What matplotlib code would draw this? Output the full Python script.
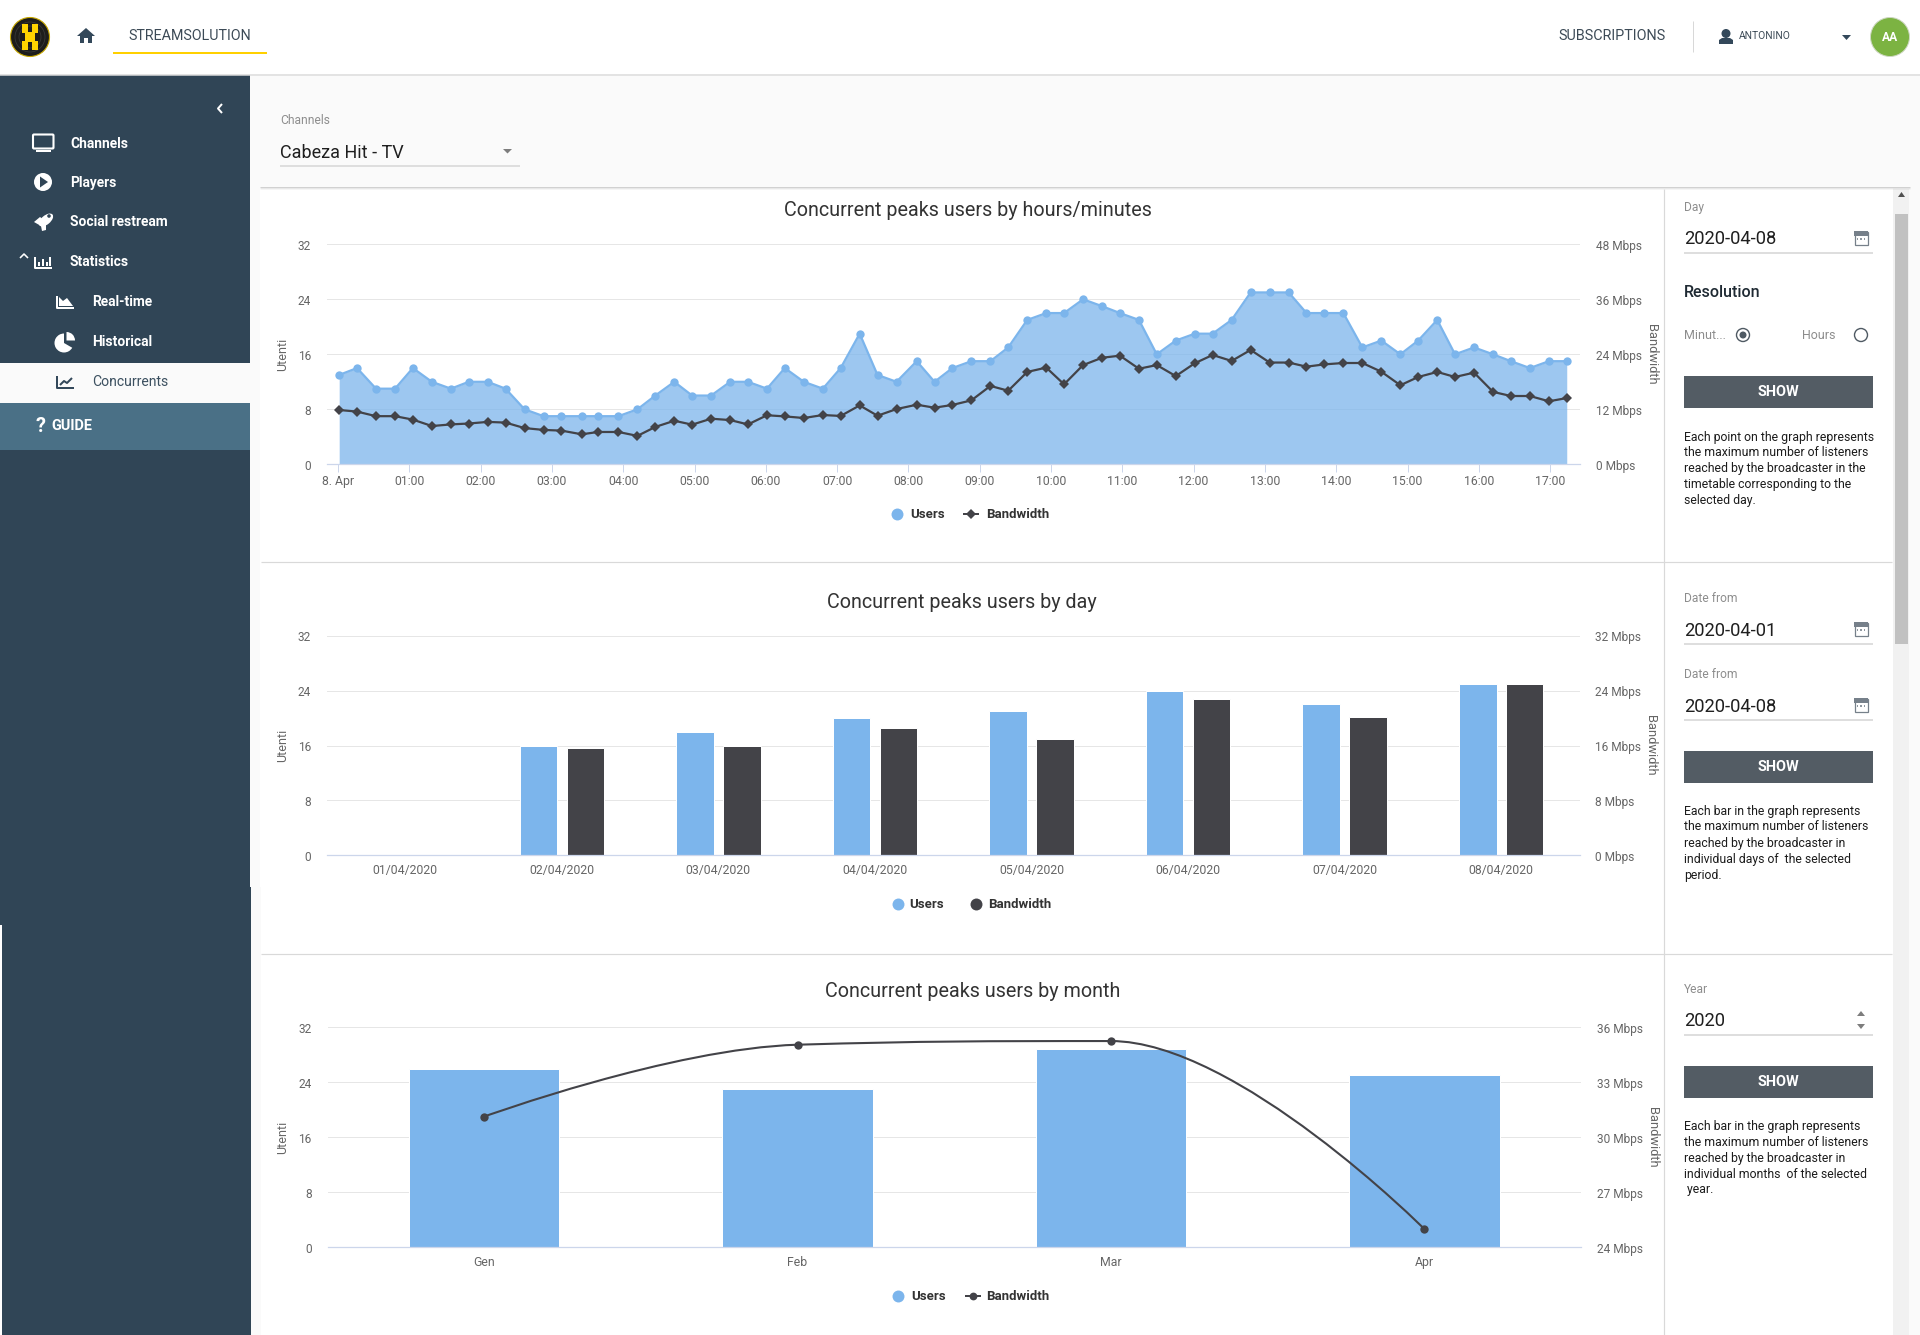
# Concurrent peaks dashboard

import matplotlib
matplotlib.use("Agg")
import matplotlib.pyplot as plt
from matplotlib.patches import Circle, Polygon, Rectangle, Wedge, PathPatch, FancyBboxPatch, Ellipse
from matplotlib.path import Path
from matplotlib.transforms import ScaledTranslation

W, H = 1920, 1335

# minutes after midnight of each point in the first chart
MINUTI = [1, 16, 32, 48, 63, 79, 95, 110, 126, 141, 157, 173, 188, 205, 219, 236, 252,
          267, 283, 298, 314, 330, 345, 361, 376, 392, 408, 423, 439, 454, 470, 487,
          502, 517, 533, 549, 564, 580, 596, 611, 627, 643, 658, 674, 689, 705, 721,
          736, 752, 768, 784, 800, 815, 830, 846, 862, 878, 894, 909, 925, 940, 956,
          972, 987, 1003, 1019, 1034]
USERS_ORE = [13, 14, 11, 11, 14, 12, 11, 12, 12, 11, 8, 7, 7, 7, 7, 7, 8, 10, 12, 10, 10,
             12, 12, 11, 14, 12, 11, 14, 19, 13, 12, 15, 12, 14, 15, 15, 17, 21, 22, 22,
             24, 23, 22, 21, 16, 18, 19, 19, 21, 25, 25, 25, 22, 22, 22, 17, 18, 16, 18,
             21, 16, 17, 16, 15, 14, 15, 15]
BAND_ORE = [11.85, 11.5, 10.5, 10.5, 9.75, 8.35, 8.7, 8.9, 9.25, 9.1, 7.9, 7.5, 7.35, 6.55,
            7.05, 7.05, 6.2, 8.15, 9.5, 8.65, 9.95, 9.65, 8.7, 10.7, 10.45, 10.1, 10.75,
            10.55, 12.85, 10.6, 12.05, 13.0, 12.35, 12.95, 13.95, 17.1, 16.05, 20.15, 21.1,
            17.45, 21.65, 23.25, 23.7, 20.85, 21.65, 19.25, 22.05, 23.85, 22.55, 24.95,
            22.2, 22.2, 21.3, 21.8, 22.1, 22.1, 20.2, 17.25, 19.05, 20.15, 19.05, 20.0,
            15.8, 14.9, 14.9, 13.75, 14.45]
ORE_TICKS = [0, 60, 120, 180, 240, 300, 360, 420, 480, 540, 600, 660, 720, 780, 840, 900, 960, 1020]
ORE_LABELS = ["8. Apr", "01:00", "02:00", "03:00", "04:00", "05:00", "06:00", "07:00", "08:00",
              "09:00", "10:00", "11:00", "12:00", "13:00", "14:00", "15:00", "16:00", "17:00"]

GIORNI = ["01/04/2020", "02/04/2020", "03/04/2020", "04/04/2020",
          "05/04/2020", "06/04/2020", "07/04/2020", "08/04/2020"]
USERS_GIORNI = [0, 16, 18, 20, 21, 24, 22, 25]
BAND_GIORNI = [0, 15.7, 16, 18.5, 16.9, 22.8, 20.2, 25]

MESI = ["Gen", "Feb", "Mar", "Apr"]
USERS_MESI = [25.9, 23, 28.9, 25]
BAND_MESI = [31.13, 35.05, 35.25, 25.0]

BLU = "#7cb5ec"
NERO = "#434348"
GRIGLIA = "#e6e6e6"
ASSE = "#ccd6eb"
LABEL = "#666666"
SIDEBAR = "#304556"
TESTO = "#3c4a56"

plt.rcParams["font.family"] = ["Roboto", "DejaVu Sans"]

fig = plt.figure(figsize=(W / 100, H / 100), dpi=100, facecolor="#fafafa")

# pixel overlay for the dashboard around the charts
ui = fig.add_axes([0, 0, 1, 1], zorder=0)
ui.set_xlim(0, W)
ui.set_ylim(H, 0)
ui.axis("off")


def rect(x0, y0, x1, y1, color, **kw):
    ui.add_patch(Rectangle((x0, y0), x1 - x0, y1 - y0, facecolor=color, edgecolor="none", **kw))


def linea(x, y, color, lw=1.0, **kw):
    ui.plot(x, y, color=color, lw=lw * 0.72, solid_capstyle="butt", **kw)


def testo(x, y, s, px, color=TESTO, weight="normal", ha="left", **kw):
    ui.text(x, y, s, fontsize=px * 0.72, color=color, fontweight=weight, ha=ha, va="center", **kw)


def poly(punti, color):
    ui.add_patch(Polygon(punti, closed=True, facecolor=color, edgecolor="none"))


def box_axes(x0, y0, x1, y1):
    ax = fig.add_axes([x0 / W, 1 - y1 / H, (x1 - x0) / W, (y1 - y0) / H], zorder=2)
    ax.patch.set_alpha(0)
    return ax


def stile_assi(ax, ax2, yticks, yticks2, pad_x):
    ax.set_ylim(0, 32)
    ax.set_yticks(yticks)
    ax2.set_yticks(yticks2)
    ax2.set_yticklabels([f"{v} Mbps" for v in yticks2])
    ax.grid(axis="y", color=GRIGLIA, lw=0.72)
    ax.set_axisbelow(True)
    for a in (ax, ax2):
        for s in a.spines.values():
            s.set_visible(False)
    ax.spines["bottom"].set_visible(True)
    ax.spines["bottom"].set_color(ASSE)
    ax.spines["bottom"].set_linewidth(0.9)
    ax.tick_params(axis="y", length=0, pad=11.5, labelsize=8.6, labelcolor=LABEL)
    ax2.tick_params(axis="y", length=0, pad=11.5, labelsize=8.6, labelcolor=LABEL)
    ax.tick_params(axis="x", labelsize=8.8, labelcolor=LABEL, pad=pad_x)
    ax.set_ylabel("Utenti", fontsize=9.0, color=LABEL, va="center")
    ax.yaxis.set_label_coords(-44.5 / 1253, 0.5)
    ax2.set_ylabel("Bandwidth", fontsize=9.3, color=LABEL, rotation=270, va="center")
    ax2.yaxis.set_label_position("right")
    ax2.yaxis.set_label_coords(1 + 78 / 1253, 0.5)
    # tick labels sit a little under the grid line
    giu = ScaledTranslation(0, -0.004, fig.dpi_scale_trans)
    for lab in ax.get_yticklabels() + ax2.get_yticklabels():
        lab.set_transform(lab.get_transform() + giu)


def spline(x, y):
    # same smoothing as a Highcharts spline series
    vert = [(x[0], y[0])]
    cod = [Path.MOVETO]
    destra = (x[0], y[0])
    for i in range(1, len(x)):
        px, py = x[i], y[i]
        if i < len(x) - 1:
            lx = (1.5 * px + x[i - 1]) / 2.5
            ly = (1.5 * py + y[i - 1]) / 2.5
            rx = (1.5 * px + x[i + 1]) / 2.5
            ry = (1.5 * py + y[i + 1]) / 2.5
            corr = (ry - ly) * (rx - px) / (rx - lx) + py - ry
            ly += corr
            ry += corr
            if ly > y[i - 1] and ly > py:
                ly = max(y[i - 1], py)
                ry = 2 * py - ly
            elif ly < y[i - 1] and ly < py:
                ly = min(y[i - 1], py)
                ry = 2 * py - ly
            if ry > y[i + 1] and ry > py:
                ry = max(y[i + 1], py)
                ly = 2 * py - ry
            elif ry < y[i + 1] and ry < py:
                ry = min(y[i + 1], py)
                ly = 2 * py - ry
        else:
            lx, ly, rx, ry = px, py, px, py
        vert += [destra, (lx, ly), (px, py)]
        cod += [Path.CURVE4] * 3
        destra = (rx, ry)
    return Path(vert, cod)


# page blocks
rect(0, 0, W, 74, "white")
linea([0, W], [74.5, 74.5], "#dcdcdc", 1.5)
rect(0, 75, 250, H, SIDEBAR)
rect(250, 887, 251, H, SIDEBAR)
rect(0, 925, 2, H, "white")
rect(0, 363, 250, 403, "#fafafa")
rect(0, 403, 250, 450, "#4a7086")
rect(260, 188, 1893, 887, "white")
rect(261, 887, 1893, H, "white")
for i, a in enumerate([0.16, 0.09, 0.04]):
    linea([260, 1910], [187 + i, 187 + i], "black", 1, alpha=a)
rect(1893, 189, 1909, H, "#f1f1f1")
rect(1895, 214, 1908, 644, "#c1c1c1")
poly([(1901.5, 192), (1898, 197), (1905, 197)], "#505050")
linea([1664, 1664], [189, H], "#d9d9d9", 1.2)
linea([261, 1892], [562, 562], "#d9d9d9", 1.2)
linea([261, 1892], [954, 954], "#d9d9d9", 1.2)

# header
ui.add_patch(Circle((30, 37), 19.5, facecolor="#1d1d1b", edgecolor="#c8a800", lw=0.8))
for r in (15, 11):
    ui.add_patch(Circle((30, 37), r, facecolor="none", edgecolor="#383836", lw=0.6))
for x0, x1, y0, y1 in [(22, 28, 24, 33), (32, 38, 24, 33), (25, 35, 32, 42), (22, 28, 41, 50), (32, 38, 41, 50)]:
    rect(x0, y0, x1, y1, "#ffd400")
poly([(77, 36), (86, 28), (95, 36), (92, 36), (92, 43), (88, 43), (88, 38), (84, 38), (84, 43), (80, 43), (80, 36)], "#33485a")
testo(128.5, 35.5, "STREAMSOLUTION", 14.2)
linea([113, 267], [53, 53], "#ffd000", 2)
testo(1558.5, 35.5, "SUBSCRIPTIONS", 14.4)
linea([1692.5, 1692.5], [21, 52], "#d8d8d8", 1)
ui.add_patch(Circle((1726, 33.5), 4.5, facecolor="#33485a"))
poly([(1719, 44), (1719, 40), (1722, 38), (1730, 38), (1733, 40), (1733, 44)], "#33485a")
testo(1738.5, 36, "ANTONINO", 10.2)
poly([(1842, 35), (1851, 35), (1846.5, 40)], "#33485a")
ui.add_patch(Circle((1890, 37), 19.5, facecolor="#7cb342", edgecolor="#cfd8c4", lw=0.7))
testo(1890, 37.5, "AA", 12, color="white", weight="bold", ha="center")

# sidebar
linea([222, 218, 222], [104, 108.5, 113], "white", 2)
for y, s in [(143.5, "Channels"), (182.5, "Players"), (222.5, "Social restream"), (262.5, "Statistics")]:
    testo(70, y, s, 13.8, color="white", weight="bold")
testo(92, 302.5, "Real-time", 13.8, color="white", weight="bold")
testo(92, 342.5, "Historical", 13.8, color="white", weight="bold")
testo(92, 382.5, "Concurrents", 14, color="#3c5060")
testo(40, 427, "?", 20, color="white", weight="bold", ha="center")
testo(51, 426, "GUIDE", 14.5, color="white", weight="bold")
ui.add_patch(FancyBboxPatch((33, 134.5), 20.5, 14, boxstyle="round,pad=0,rounding_size=1", facecolor="none", edgecolor="white", lw=1.5))
linea([36, 51], [150.5, 150.5], "white", 2)
ui.add_patch(Circle((43, 182), 9, facecolor="white"))
poly([(40, 176.5), (48, 182), (40, 187.5)], SIDEBAR)
ui.add_patch(Ellipse((46, 220), 17, 9, angle=-40, facecolor="white"))
poly([(34, 222), (40, 217), (44, 220), (41, 226)], "white")
poly([(41, 226), (46, 224), (46, 230), (42, 231)], "white")
ui.add_patch(Circle((49, 216), 1.8, facecolor=SIDEBAR))
linea([20, 24, 28], [258, 254, 258], "white", 1.6)
linea([35, 35, 52], [257, 268, 268], "white", 2)
for x, y in [(39, 262), (43, 259), (47, 262), (50, 257)]:
    rect(x - 1, y, x + 1, 266, "white")
linea([57, 57, 74], [296, 308, 308], "white", 2)
poly([(59, 306), (59, 297), (63, 301), (67, 298), (73, 306)], "white")
ui.add_patch(Wedge((64, 343), 9.5, 30, 270, facecolor="white"))
ui.add_patch(Wedge((66.5, 340.5), 8.5, 270, 360, facecolor="white"))
linea([57, 57, 74], [376, 388, 388], "#33485a", 2)
linea([60, 64, 67, 72], [385, 381, 383, 378], "#33485a", 2)

# channel selector
testo(280, 120, "Channels", 12, color="#8d8d8d")
testo(280, 152.5, "Cabeza Hit - TV", 18, color="#1f1f1f")
poly([(503, 149), (512, 149), (507.5, 153.5)], "#7d7d7d")
linea([280, 520], [165.5, 165.5], "#dedede", 2)


def calendario(cx, cy):
    ui.add_patch(Rectangle((cx - 6.5, cy - 6), 13, 13, facecolor="white", edgecolor="#76808a", lw=0.9))
    rect(cx - 7, cy - 7, cx + 7, cy - 2, "#76808a")
    for dx in (-3.5, 0, 3.5):
        rect(cx + dx - 0.8, cy, cx + dx + 0.8, cy + 2, "#8f98a0")


def bottone(y0, y1):
    rect(1684, y0, 1873, y1, "#535c64")
    testo(1778.5, (y0 + y1) / 2, "SHOW", 14.5, color="white", weight="bold", ha="center")


def descrizione(righe, ys, x=1684):
    for s, y in zip(righe, ys):
        testo(x, y, s, 12.3, color="#1c1c1c")


# panel next to chart 1
testo(1684, 207, "Day", 12, color="#8d8d8d")
testo(1684, 238.8, "2020-04-08", 18.4, color="#1f1f1f")
calendario(1861, 238)
linea([1684, 1873], [252.5, 252.5], "#dedede", 2)
testo(1684, 292.5, "Resolution", 16, color="#1f2a33", weight="medium")
testo(1684, 335.8, "Minut...", 12.5, color="#8d8d8d")
ui.add_patch(Circle((1743, 335), 6.5, facecolor="white", edgecolor="#4f5a63", lw=1))
ui.add_patch(Circle((1743, 335), 3.5, facecolor="#4f5a63"))
testo(1802, 335.8, "Hours", 12.5, color="#8d8d8d")
ui.add_patch(Circle((1861, 335), 6.5, facecolor="white", edgecolor="#4f5a63", lw=1))
bottone(376, 408)
descrizione(["Each point on the graph represents", "the maximum number of listeners",
             "reached by the broadcaster in the", "timetable corresponding to the", "selected day."],
            [437, 453, 468.5, 484.5, 500.5])

# panel next to chart 2
testo(1684, 598, "Date from", 12, color="#8d8d8d")
testo(1684, 630.5, "2020-04-01", 18.4, color="#1f1f1f")
calendario(1861, 629)
linea([1684, 1873], [644, 644], "#dedede", 2)
testo(1684, 674, "Date from", 12, color="#8d8d8d")
testo(1684, 706.5, "2020-04-08", 18.4, color="#1f1f1f")
calendario(1861, 705)
linea([1684, 1873], [720, 720], "#dedede", 2)
bottone(751, 783)
descrizione(["Each bar in the graph represents", "the maximum number of listeners",
             "reached by the broadcaster in", "individual days of  the selected", "period."],
            [811, 827, 843, 859, 875])

# panel next to chart 3
testo(1684, 989.5, "Year", 12, color="#8d8d8d")
testo(1684, 1020.5, "2020", 18.4, color="#1f1f1f")
poly([(1857, 1016), (1865, 1016), (1861, 1011)], "#7d7d7d")
poly([(1857, 1024), (1865, 1024), (1861, 1029)], "#7d7d7d")
linea([1684, 1873], [1035, 1035], "#dedede", 2)
bottone(1066, 1098)
descrizione(["Each bar in the graph represents", "the maximum number of listeners",
             "reached by the broadcaster in", "individual months  of the selected", " year."],
            [1126.5, 1142, 1158.5, 1174, 1190])

# titles and legends
testo(968, 210.5, "Concurrent peaks users by hours/minutes", 19.8, color="#333333", ha="center")
testo(962, 602.5, "Concurrent peaks users by day", 19.8, color="#333333", ha="center")
testo(972.5, 991.5, "Concurrent peaks users by month", 19.8, color="#333333", ha="center")

for ly, xu, xt, xs, xb, simbolo in [(514, 897, 910, 971, 986, "D"), (904, 898, 909.5, 975.5, 988.5, "o"), (1296, 898, 911.5, 973, 986.5, "c")]:
    ui.plot([xu], [ly], "o", color=BLU, ms=8.6, mew=0)
    testo(xt, ly, "Users", 13.2, color="#333333", weight="bold")
    if simbolo == "o":
        ui.plot([xs], [ly], "o", color=NERO, ms=8.6, mew=0)
    else:
        linea([xs - 8, xs + 8], [ly, ly], NERO, 2)
        ui.plot([xs], [ly], "D" if simbolo == "D" else "o", color=NERO, ms=4.6 if simbolo == "D" else 5.6, mew=0)
    testo(xb, ly, "Bandwidth", 13.2, color="#333333", weight="bold")

# chart 1: users area and bandwidth line by time of day
px_ora = 71.3
ax1 = box_axes(327, 244.3, 1580, 464.3)
ax1.set_xlim(-(338 - 327) / px_ora * 60, (1580 - 338) / px_ora * 60)
ax1b = ax1.twinx()
ax1b.set_ylim(0, 48)
ax1.fill_between(MINUTI, USERS_ORE, 0, color=BLU, alpha=0.75, lw=0, zorder=2)
ax1.plot(MINUTI, USERS_ORE, color=BLU, lw=1.6, marker="o", ms=6, mew=0, zorder=3, clip_on=False)
ax1b.plot(MINUTI, BAND_ORE, color=NERO, lw=1.6, marker="D", ms=4.8, mew=0, clip_on=False)
ax1.set_xticks(ORE_TICKS)
ax1.set_xticklabels(ORE_LABELS)
stile_assi(ax1, ax1b, [0, 8, 16, 24, 32], [0, 12, 24, 36, 48], 2)
ax1.tick_params(axis="x", length=5.8, width=0.72, color=ASSE)

# chart 2: bars by day
ax2 = box_axes(327, 635.7, 1579.5, 855.3)
ax2.set_xlim(-0.5, 7.5)
ax2b = ax2.twinx()
ax2b.set_ylim(0, 32)
pos_g = list(range(len(GIORNI)))
ax2.bar([p - 0.15 for p in pos_g], USERS_GIORNI, width=0.24, color=BLU, edgecolor="white", lw=0.72, zorder=2)
ax2.bar([p + 0.15 for p in pos_g], BAND_GIORNI, width=0.24, color=NERO, edgecolor="white", lw=0.72, zorder=2)
ax2.set_xticks(pos_g)
ax2.set_xticklabels(GIORNI)
stile_assi(ax2, ax2b, [0, 8, 16, 24, 32], [0, 8, 16, 24, 32], 6.5)
ax2.tick_params(axis="x", length=0)

# chart 3: bars and spline by month
ax3 = box_axes(327.5, 1027.3, 1581, 1247.3)
ax3.set_xlim(-0.5, 3.5)
ax3b = ax3.twinx()
ax3b.set_ylim(24, 36)
pos_m = list(range(len(MESI)))
ax3.bar(pos_m, USERS_MESI, width=0.48, color=BLU, edgecolor="white", lw=0.72, zorder=2)
ax3b.add_patch(PathPatch(spline(pos_m, BAND_MESI), facecolor="none", edgecolor=NERO, lw=1.5))
ax3b.plot(pos_m, BAND_MESI, ls="none", color=NERO, marker="o", ms=6, mew=0)
ax3.set_xticks(pos_m)
ax3.set_xticklabels(MESI)
stile_assi(ax3, ax3b, [0, 8, 16, 24, 32], [24, 27, 30, 33, 36], 6.5)
ax3.tick_params(axis="x", length=0)

fig.savefig("out.png", dpi=100, facecolor=fig.get_facecolor())
plt.close(fig)
